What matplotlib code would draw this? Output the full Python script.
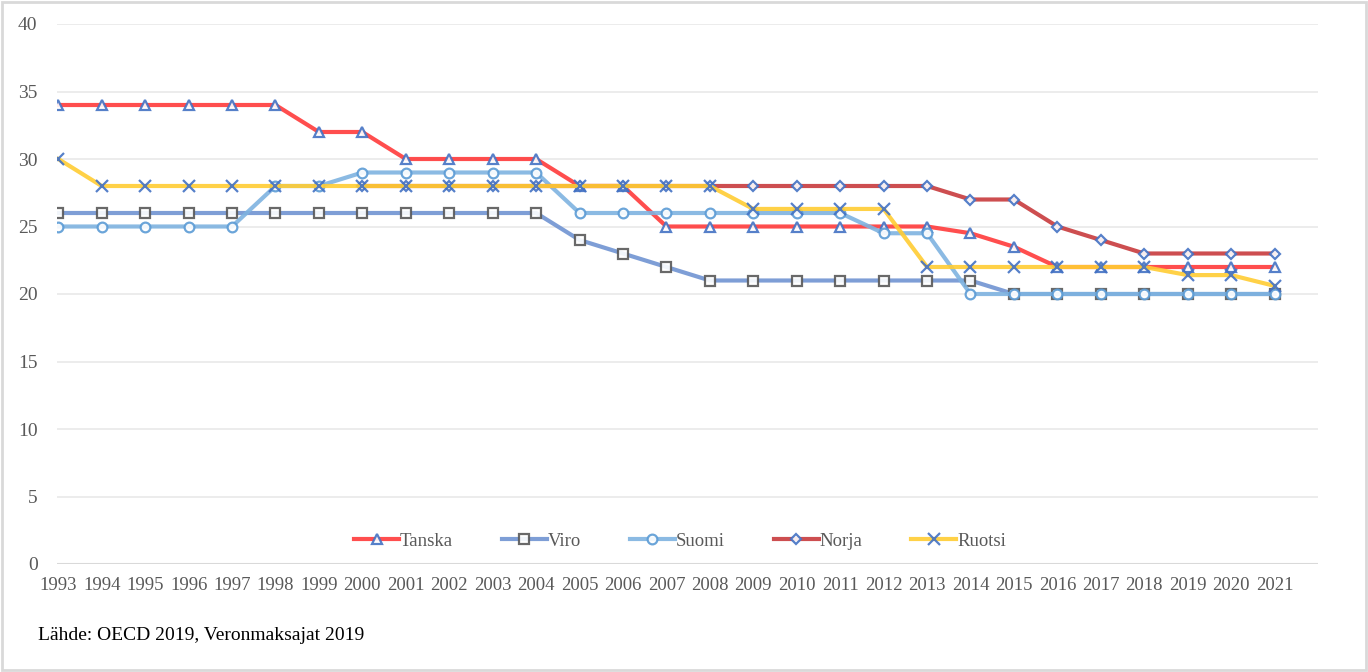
import matplotlib.pyplot as plt
from matplotlib.patches import Rectangle

plt.rcParams['font.family'] = ['Liberation Serif', 'DejaVu Serif']

years = list(range(1993, 2022))

tanska = [34, 34, 34, 34, 34, 34, 32, 32, 30, 30, 30, 30, 28, 28, 25,
          25, 25, 25, 25, 25, 25, 24.5, 23.5, 22, 22, 22, 22, 22, 22]
viro = [26, 26, 26, 26, 26, 26, 26, 26, 26, 26, 26, 26, 24, 23, 22,
        21, 21, 21, 21, 21, 21, 21, 20, 20, 20, 20, 20, 20, 20]
suomi = [25, 25, 25, 25, 25, 28, 28, 29, 29, 29, 29, 29, 26, 26, 26,
         26, 26, 26, 26, 24.5, 24.5, 20, 20, 20, 20, 20, 20, 20, 20]
# Norja starts from 2000
norja = [None] * 7 + [28, 28, 28, 28, 28, 28, 28, 28, 28, 28, 28, 28, 28,
                      28, 27, 27, 25, 24, 23, 23, 23, 23]
ruotsi = [30, 28, 28, 28, 28, 28, 28, 28, 28, 28, 28, 28, 28, 28, 28,
          28, 26.3, 26.3, 26.3, 26.3, 22, 22, 22, 22, 22, 22, 21.4, 21.4, 20.6]

series = [
    ('Tanska', tanska, '#FF3B3B', '^', '#4472C4'),
    ('Viro', viro, '#7094D2', 's', '#595959'),
    ('Suomi', suomi, '#7EB3E0', 'o', '#5B9BD5'),
    ('Norja', norja, '#C83B3D', 'D', '#4472C4'),
    ('Ruotsi', ruotsi, '#FFCC33', 'x', '#4472C4'),
]

fig = plt.figure(figsize=(13.68, 6.72), dpi=100)
ax = fig.add_axes([57 / 1368, 1 - 564 / 672, (1318 - 57) / 1368, (564 - 24) / 672])

x = list(range(len(years)))
for name, vals, col, mk, mcol in series:
    xs = [i for i, v in zip(x, vals) if v is not None]
    ys = [v for v in vals if v is not None]
    ms = {'D': 5.5, 'x': 8}.get(mk, 7)
    ax.plot(xs, ys, color=col, lw=3, alpha=0.9, label=name,
            marker=mk, markersize=ms,
            markerfacecolor='white' if mk != 'x' else mcol,
            markeredgecolor=mcol, markeredgewidth=1.6)

ax.set_xlim(-0.03, 29)
ax.set_ylim(0, 40)
ax.set_yticks(range(0, 41, 5))
ax.set_xticks(x)
ax.set_xticklabels([str(y) for y in years])
ax.tick_params(axis='both', length=0, colors='#595959')
ax.tick_params(axis='x', labelsize=13.5, pad=9)
ax.tick_params(axis='y', labelsize=14, pad=14)
ax.grid(axis='y', color='#EBEBEB', lw=1.3)
ax.set_axisbelow(True)
for s in ax.spines.values():
    s.set_visible(False)
ax.axhline(0, color='#D9D9D9', lw=1.5, zorder=1)

fig.legend(loc='center', bbox_to_anchor=(680 / 1368, 1 - 541 / 672), ncol=5,
           frameon=False, fontsize=13.5, handlelength=2.4, columnspacing=2.6,
           handletextpad=0.05, labelcolor='#595959')

fig.text(38 / 1368, 1 - 636 / 672, 'Lähde: OECD 2019, Veronmaksajat 2019',
         fontsize=14, color='black', va='center')

fig.patches.append(Rectangle((2 / 1368, 2 / 672), 1364 / 1368, 668 / 672,
                             transform=fig.transFigure, fill=False,
                             edgecolor='#D9D9D9', lw=2))

fig.savefig('out.png', dpi=100)
